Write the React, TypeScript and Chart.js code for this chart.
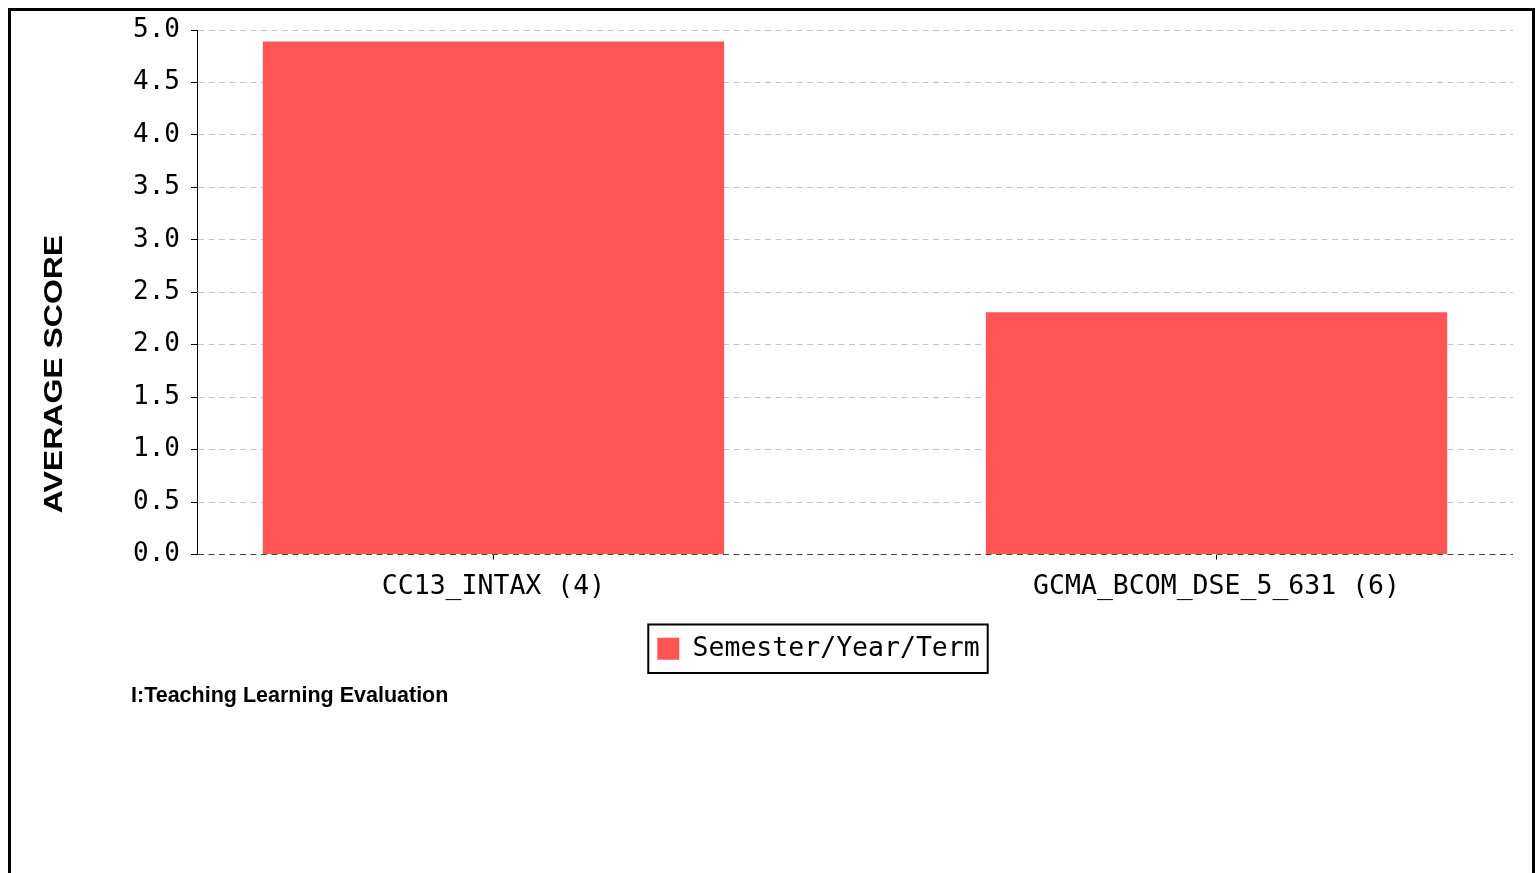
import React, { useEffect, useRef } from "react";
import { Chart, registerables } from "chart.js";

Chart.register(...registerables);

const categories = ["CC13_INTAX (4)", "GCMA_BCOM_DSE_5_631 (6)"];
const seriesLabel = "Semester/Year/Term";
const averageScores = [4.89, 2.31];
const yTickValues = [0, 0.5, 1.0, 1.5, 2.0, 2.5, 3.0, 3.5, 4.0, 4.5, 5.0];
const yAxisTitle = "AVERAGE SCORE";
const footerText = "I:Teaching Learning Evaluation";

const MONO = '"DejaVu Sans Mono", monospace';
const SANS = '"Liberation Sans", Arial, sans-serif';
const BAR_COLOR = "#FF5555";

const decorations = {
  id: "decorations",
  afterDraw(chart: any) {
    const ctx = chart.ctx as CanvasRenderingContext2D;
    // rotated y-axis title
    ctx.save();
    ctx.fillStyle = "#000";
    ctx.font = `bold 26px ${SANS}`;
    ctx.textAlign = "center";
    ctx.textBaseline = "alphabetic";
    ctx.translate(51, 363);
    ctx.rotate(-Math.PI / 2);
    ctx.scale(1.23, 1);
    ctx.fillText(yAxisTitle, 0, 0);
    ctx.restore();

    // footer caption
    ctx.save();
    ctx.fillStyle = "#000";
    ctx.font = `bold 21.5px ${SANS}`;
    ctx.textAlign = "left";
    ctx.textBaseline = "alphabetic";
    ctx.fillText(footerText, 120, 691);
    ctx.restore();

    // legend frame
    const hb = chart.legend?.legendHitBoxes?.[0];
    if (hb) {
      ctx.save();
      ctx.lineWidth = 2;
      ctx.strokeStyle = "#000";
      ctx.strokeRect(hb.left - 9, hb.top - 11, hb.width + 17, hb.height + 22);
      ctx.restore();
    }
  },
};

export default function App() {
  const canvasRef = useRef<HTMLCanvasElement | null>(null);

  useEffect(() => {
    const canvas = canvasRef.current;
    if (!canvas) return;
    const chart = new Chart(canvas, {
      type: "bar",
      data: {
        datasets: [
          {
            label: seriesLabel,
            data: categories.map((_, i) => ({ x: i, y: averageScores[i] })),
            backgroundColor: BAR_COLOR,
            borderWidth: 0,
            categoryPercentage: 0.638,
            barPercentage: 1,
          },
        ],
      },
      options: {
        responsive: false,
        animation: false,
        devicePixelRatio: 1,
        layout: { padding: { top: 19, left: 113, right: 19, bottom: 209 } },
        plugins: {
          legend: {
            position: "bottom",
            labels: {
              boxWidth: 22,
              boxHeight: 22,
              padding: 10,
              color: "#000",
              font: { family: MONO, size: 26.5 },
            },
          },
          tooltip: { enabled: false },
          title: { display: false },
        },
        scales: {
          x: {
            type: "linear",
            min: -0.41,
            max: 1.41,
            offset: false,
            afterBuildTicks: (s: any) => {
              s.ticks = categories.map((_, i) => ({ value: i }));
            },
            afterFit: (s: any) => {
              s.height = 71;
              s.paddingLeft = 0;
              s.paddingRight = 0;
            },
            grid: {
              display: true,
              drawOnChartArea: false,
              drawTicks: true,
              tickLength: 5,
              tickColor: "#000",
              color: "#000",
              offset: false,
            },
            border: { display: false },
            ticks: {
              autoSkip: false,
              maxRotation: 0,
              padding: 12,
              color: "#000",
              font: { family: MONO, size: 26.5 },
              callback: (v: any) => categories[Number(v)] ?? "",
            },
          },
          y: {
            type: "linear",
            min: 0,
            max: 5,
            afterBuildTicks: (s: any) => {
              s.ticks = yTickValues.map((v) => ({ value: v }));
            },
            afterFit: (s: any) => {
              s.width = 73;
              s.paddingTop = 0;
              s.paddingBottom = 0;
            },
            grid: {
              color: (c: any) => (c.tick && c.tick.value === 0 ? "#444" : "#c4c4c4"),
              tickColor: "#000",
              tickLength: 6,
              tickBorderDash: [],
              lineWidth: 1,
            },
            border: { display: true, color: "#000", width: 1, dash: [6, 4.5] },
            ticks: {
              padding: 11,
              color: "#000",
              font: { family: MONO, size: 26 },
              callback: (v: any) => Number(v).toFixed(1),
            },
          },
        },
      },
      plugins: [decorations],
    } as any);
    return () => chart.destroy();
  }, []);

  return (
    <>
      <style>{"html{overflow:hidden;}"}</style>
      <div
        style={{
          position: "absolute",
          left: 8,
          top: 8,
          width: 1521,
          height: 870,
          border: "3px solid #000",
          background: "#fff",
        }}
      >
        <canvas ref={canvasRef} width={1521} height={870} style={{ display: "block" }} />
      </div>
    </>
  );
}
